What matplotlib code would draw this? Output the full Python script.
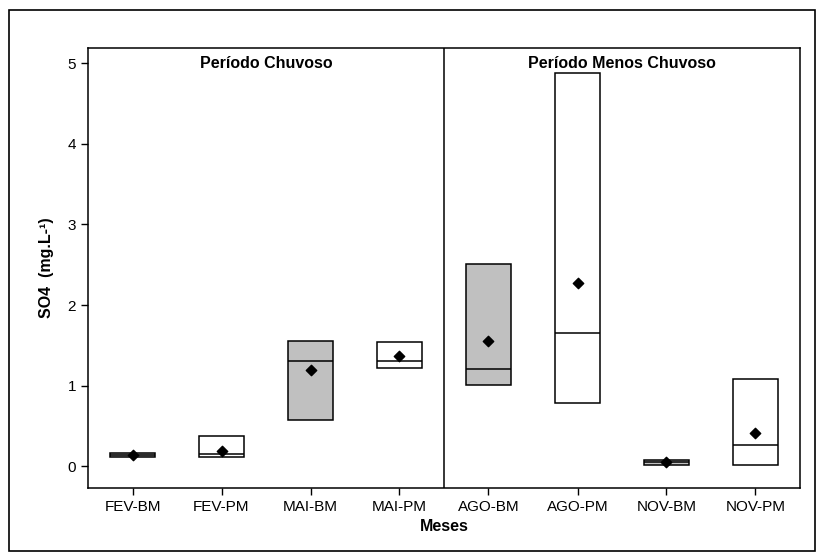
import matplotlib
matplotlib.use("Agg")
import matplotlib.pyplot as plt
from matplotlib.patches import Rectangle

plt.rcParams['font.family'] = ['Liberation Sans', 'DejaVu Sans']

categories = ["FEV-BM", "FEV-PM", "MAI-BM", "MAI-PM", "AGO-BM", "AGO-PM", "NOV-BM", "NOV-PM"]
q1 = [0.11, 0.115, 0.58, 1.22, 1.01, 0.79, 0.02, 0.01]
q3 = [0.17, 0.38, 1.56, 1.54, 2.51, 4.88, 0.075, 1.08]
median = [0.14, 0.15, 1.30, 1.31, 1.21, 1.65, 0.05, 0.26]
mean = [0.14, 0.19, 1.19, 1.37, 1.56, 2.28, 0.05, 0.41]
fills = ["#C0C0C0", "white", "#C0C0C0", "white", "#C0C0C0", "white", "#C0C0C0", "white"]
period_labels = ["Período Chuvoso", "Período Menos Chuvoso"]
yticks = [0, 1, 2, 3, 4, 5]

fig = plt.figure(figsize=(8.24, 5.57), dpi=100)
ax = fig.add_axes([88/824, 1-488/557, (800-88)/824, (488-48)/557])

x = list(range(len(categories)))
heights = [b - a for a, b in zip(q1, q3)]
ax.bar(x, heights, bottom=q1, width=0.5, color=fills, edgecolor="black", linewidth=1.1, zorder=2)
ax.hlines(median, [i - 0.25 for i in x], [i + 0.25 for i in x], color="black", linewidth=1.1, zorder=3)
ax.scatter(x, mean, marker="D", s=28, color="black", zorder=4)

ax.axvline(3.5, color="black", linewidth=1.1)
ax.set_xlim(-0.5, 7.5)
ax.set_ylim(-0.27, 5.19)
ax.set_xticks(x)
ax.set_xticklabels(categories)
ax.set_yticks(yticks)
ax.tick_params(axis="both", labelsize=11, length=5, width=1, direction="out", colors="black")
for s in ax.spines.values():
    s.set_linewidth(1.1)

ax.text(1.5, 5.0, period_labels[0], ha="center", va="center", fontsize=11.5, fontweight="bold")
ax.text(5.5, 5.0, period_labels[1], ha="center", va="center", fontsize=11.5, fontweight="bold")

ax.set_xlabel("Meses", fontsize=11.5, fontweight="bold", labelpad=4)
ax.set_ylabel("SO4  (mg.L-¹)", fontsize=11.5, fontweight="bold", labelpad=10)

fig.patches.append(Rectangle((9/824, 1-551/557), (815-9)/824, (551-10)/557,
                             transform=fig.transFigure, fill=False, edgecolor="black", linewidth=1.2))

fig.savefig("out.png", dpi=100)
